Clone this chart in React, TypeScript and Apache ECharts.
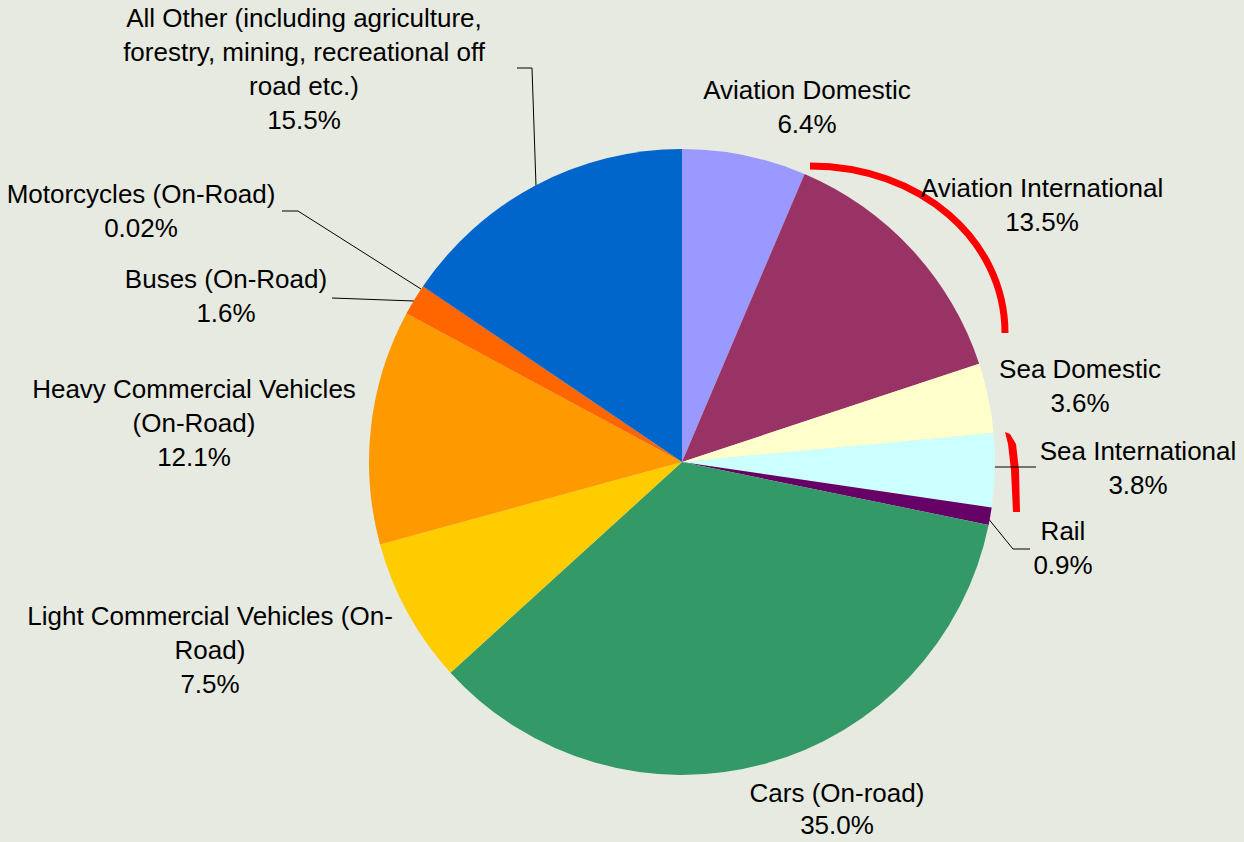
import React, { useEffect, useRef } from "react";
import * as echarts from "echarts";

// ---- data ----
const categories = [
  "Aviation Domestic",
  "Aviation International",
  "Sea Domestic",
  "Sea International",
  "Rail",
  "Cars (On-road)",
  "Light Commercial Vehicles (On-Road)",
  "Heavy Commercial Vehicles (On-Road)",
  "Buses (On-Road)",
  "Motorcycles (On-Road)",
  "All Other (including agriculture, forestry, mining, recreational off road etc.)",
];
const shares = [6.4, 13.5, 3.6, 3.8, 0.9, 35.0, 7.5, 12.1, 1.6, 0.02, 15.5];
const labelNames = [
  "Aviation Domestic",
  "Aviation International",
  "Sea Domestic",
  "Sea International",
  "Rail",
  "Cars (On-road)",
  "Light Commercial Vehicles (On-\nRoad)",
  "Heavy Commercial Vehicles\n(On-Road)",
  "Buses (On-Road)",
  "Motorcycles (On-Road)",
  "All Other (including agriculture,\nforestry, mining, recreational off\nroad etc.)",
];

// ---- styles / layout ----
const colors = [
  "#9999FF",
  "#993366",
  "#FFFFCC",
  "#CCFFFF",
  "#660066",
  "#339966",
  "#FFCC00",
  "#FF9900",
  "#FF6600",
  "#800000",
  "#0066CC",
];
const labelPos: [number, number][] = [
  [807, 107],
  [1042, 205],
  [1080, 386],
  [1138, 468],
  [1063, 548],
  [837, 809],
  [210, 650],
  [194, 423],
  [226, 296],
  [141, 211],
  [304, 69],
];
const labelLineHeights = [34, 34, 34, 34, 34, 32, 34, 34, 34, 34, 34];
const leaderPts: (number[][] | null)[] = [
  null,
  null,
  null,
  [[993, 467], [1036, 467]],
  [[987, 517], [1013, 549], [1030, 549]],
  null,
  null,
  null,
  [[332, 298], [414, 301]],
  [[282, 211], [298, 211], [421, 289]],
  [[517, 68], [532, 68], [536, 186]],
];

function fmtShare(v: number) {
  return v < 0.1 ? v.toFixed(2) + "%" : v.toFixed(1) + "%";
}

export default function App() {
  const ref = useRef<HTMLDivElement>(null);
  useEffect(() => {
    if (!ref.current) return;
    const chart = echarts.init(ref.current, null, { renderer: "svg" });
    const font = '"Liberation Sans", Arial, sans-serif';
    chart.setOption({
      animation: false,
      backgroundColor: "#E7EAE0",
      series: [
        {
          type: "pie",
          center: [682, 462],
          radius: 313,
          startAngle: 90,
          clockwise: true,
          avoidLabelOverlap: false,
          minShowLabelAngle: 0,
          itemStyle: { borderWidth: 0 },
          emphasis: { disabled: true },
          label: {
            show: true,
            position: "outside",
            color: "#000",
            fontFamily: font,
            fontSize: 26,
            lineHeight: 34,
            width: 520,
            overflow: "none",
            formatter: (p: any) =>
              labelNames[p.dataIndex] + "\n" + fmtShare(shares[p.dataIndex]),
          },
          labelLine: {
            show: true,
            smooth: false,
            lineStyle: { color: "#000", width: 1 },
          },
          labelLayout: (p: any) => {
            const i = p.dataIndex;
            const o: any = {
              x: labelPos[i][0],
              y: labelPos[i][1],
              align: "center",
              verticalAlign: "middle",
            };
            if (leaderPts[i]) o.labelLinePoints = leaderPts[i];
            return o;
          },
          data: categories.map((name, i) => ({
            name,
            value: shares[i],
            itemStyle: { color: colors[i] },
            label: { lineHeight: labelLineHeights[i] },
            labelLine: { show: !!leaderPts[i] },
          })),
        },
      ],
      graphic: [
        {
          type: "bezierCurve",
          silent: true,
          shape: {
            x1: 810,
            y1: 166,
            cpx1: 920,
            cpy1: 166,
            cpx2: 1005,
            cpy2: 240,
            x2: 1005,
            y2: 333,
          },
          style: { stroke: "#FF0000", lineWidth: 7, fill: "none" },
        },
        {
          type: "polygon",
          silent: true,
          shape: {
            points: [
              [1005, 432],
              [1008, 444],
              [1011, 470],
              [1013, 512],
              [1020, 512],
              [1019, 470],
              [1016, 444],
              [1010, 434],
            ],
          },
          style: { fill: "#FF0000", stroke: "none" },
        },
      ],
    });
    return () => chart.dispose();
  }, []);
  return (
    <div
      ref={ref}
      style={{ position: "fixed", left: 0, top: 0, width: 1244, height: 842 }}
    />
  );
}
